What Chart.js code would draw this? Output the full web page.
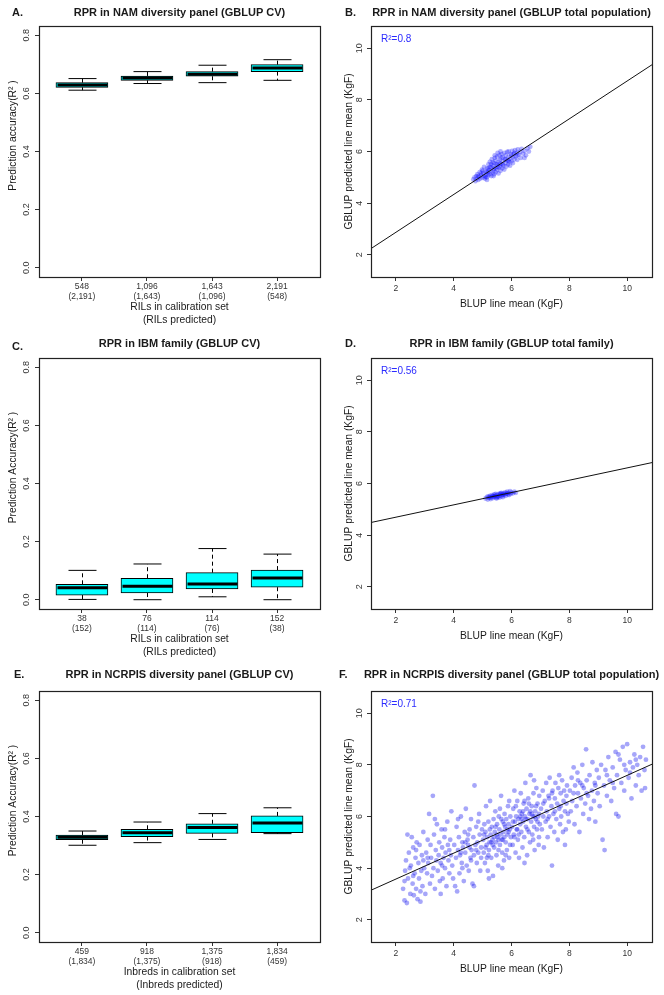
<!DOCTYPE html>
<html>
<head>
<meta charset="utf-8">
<script src="https://cdn.jsdelivr.net/npm/chart.js@4.4.1/dist/chart.umd.min.js"></script>
<style>
  html, body { margin: 0; padding: 0; background: #fff; }
  #fig { position: relative; width: 664px; height: 995px; }
  #fig canvas { position: absolute; }
</style>
</head>
<body>
<div id="fig">
  <canvas id="panelA" width="332" height="330" style="left:0;top:0"></canvas>
  <canvas id="panelB" width="332" height="330" style="left:332px;top:0"></canvas>
  <canvas id="panelC" width="332" height="330" style="left:0;top:330px"></canvas>
  <canvas id="panelD" width="332" height="330" style="left:332px;top:330px"></canvas>
  <canvas id="panelE" width="332" height="335" style="left:0;top:660px"></canvas>
  <canvas id="panelF" width="332" height="335" style="left:332px;top:660px"></canvas>
</div>
<script>
// ---- box plots: prediction accuracy (R^2) per calibration size ----
const namCalib = ['548', '1,096', '1,643', '2,191'];
const namPredicted = ['(2,191)', '(1,643)', '(1,096)', '(548)'];
const namMin = [0.611, 0.634, 0.637, 0.645];
const namQ1 = [0.621, 0.645, 0.659, 0.675];
const namMedian = [0.629, 0.653, 0.666, 0.687];
const namQ3 = [0.637, 0.660, 0.675, 0.699];
const namMax = [0.651, 0.675, 0.697, 0.716];

const ibmCalib = ['38', '76', '114', '152'];
const ibmPredicted = ['(152)', '(114)', '(76)', '(38)'];
const ibmMin = [0.001, 0.0, 0.010, 0.0];
const ibmQ1 = [0.016, 0.023, 0.037, 0.043];
const ibmMedian = [0.041, 0.046, 0.054, 0.075];
const ibmQ3 = [0.053, 0.074, 0.093, 0.102];
const ibmMax = [0.101, 0.123, 0.176, 0.157];

const ncrpisCalib = ['459', '918', '1,375', '1,834'];
const ncrpisPredicted = ['(1,834)', '(1,375)', '(918)', '(459)'];
const ncrpisMin = [0.301, 0.310, 0.321, 0.341];
const ncrpisQ1 = [0.320, 0.331, 0.342, 0.344];
const ncrpisMedian = [0.329, 0.344, 0.362, 0.378];
const ncrpisQ3 = [0.336, 0.356, 0.375, 0.402];
const ncrpisMax = [0.350, 0.381, 0.410, 0.430];

const accuracyTicks = [0, 0.2, 0.4, 0.6, 0.8];
const kgfTicks = [2, 4, 6, 8, 10];

// ---- scatter plots: [BLUP line mean, GBLUP predicted line mean] ----
const namPoints = [
  [4.68,4.92],[4.72,5.0],[4.75,4.85],[4.78,5.05],[4.8,4.95],[4.82,5.12],[4.85,4.9],[4.88,5.02],[4.9,5.2],[4.92,4.95],
  [4.95,5.08],[4.98,5.3],[5.0,4.98],[5.02,5.15],[5.05,5.4],[5.05,5.05],[5.08,4.95],[5.1,5.22],[5.12,5.1],[5.15,5.35],
  [5.15,5.0],[5.18,5.18],[5.2,5.5],[5.2,5.08],[5.22,5.28],[5.25,5.12],[5.25,5.6],[5.28,5.22],[5.3,5.38],[5.3,5.05],
  [5.32,5.7],[5.35,5.2],[5.35,5.45],[5.38,5.3],[5.4,5.12],[5.4,5.55],[5.42,5.75],[5.45,5.35],[5.45,5.2],[5.48,5.5],
  [5.5,5.8],[5.5,5.28],[5.52,5.42],[5.55,5.6],[5.55,5.15],[5.58,5.85],[5.6,5.4],[5.6,5.68],[5.62,5.25],[5.65,5.52],
  [5.65,5.9],[5.68,5.35],[5.7,5.62],[5.7,5.78],[5.72,5.45],[5.75,5.95],[5.75,5.3],[5.78,5.7],[5.8,5.55],[5.8,5.85],
  [5.82,5.42],[5.85,5.98],[5.85,5.65],[5.88,5.5],[5.9,5.8],[5.9,6.0],[5.92,5.6],[5.95,5.72],[5.95,5.45],[5.98,5.9],
  [6.0,5.62],[6.02,6.02],[6.05,5.78],[6.05,5.55],[6.08,5.9],[6.1,5.7],[6.12,6.05],[6.15,5.82],[6.18,5.95],[6.2,5.68],
  [6.22,6.08],[6.25,5.88],[6.3,5.98],[6.32,5.75],[6.35,6.1],[6.4,5.92],[6.45,6.02],[6.5,5.85],[6.55,6.12],[6.6,6.0],
  [6.65,6.18],[5.0,5.25],[5.1,5.02],[5.2,5.35],[5.3,5.5],[5.4,5.35],[5.5,5.5],[5.6,5.52],[5.7,5.5],[5.8,5.7],
  [5.9,5.65],[6.0,5.85],[5.45,5.65],[5.55,5.38],[5.65,5.75],[5.35,5.58],[5.25,5.4],[5.15,5.22],[4.95,5.15],[4.85,5.05],
  [6.1,5.95],[6.2,5.85],[5.62,6.0],[5.52,5.95],[5.42,5.85],[6.45,5.75],[5.15,4.9],[5.38,5.05]
];
const ibmPoints = [
  [5.1,5.42],[5.15,5.48],[5.18,5.38],[5.2,5.5],[5.22,5.44],[5.25,5.52],[5.28,5.4],[5.3,5.47],[5.32,5.55],[5.35,5.43],
  [5.38,5.5],[5.4,5.58],[5.42,5.46],[5.45,5.53],[5.48,5.42],[5.5,5.56],[5.52,5.49],[5.55,5.6],[5.58,5.45],[5.6,5.54],
  [5.62,5.62],[5.65,5.5],[5.68,5.58],[5.7,5.47],[5.72,5.63],[5.75,5.55],[5.78,5.66],[5.8,5.52],[5.82,5.6],[5.85,5.68],
  [5.88,5.57],[5.9,5.64],[5.92,5.55],[5.95,5.7],[5.98,5.6],[6.0,5.66],[6.05,5.62],[6.1,5.68],[6.15,5.64],[5.35,5.52],
  [5.45,5.6],[5.55,5.5],[5.65,5.64],[5.75,5.6],[5.85,5.62],[5.25,5.46],[5.5,5.45],[5.7,5.55],[5.6,5.6],[5.4,5.5]
];
const ncrpisPoints = [
  [2.25,3.2],[2.3,2.75],[2.32,3.9],[2.35,4.3],[2.38,2.65],[2.4,5.3],[2.42,3.6],[2.45,4.6],[2.5,3.0],[2.52,4.1],
  [2.55,5.2],[2.58,3.4],[2.6,4.8],[2.62,2.95],[2.65,3.8],[2.68,4.4],[2.7,3.2],[2.72,5.0],[2.75,2.8],[2.78,4.2],
  [2.8,3.6],[2.82,4.9],[2.85,2.7],[2.88,3.9],[2.9,4.5],[2.92,3.3],[2.95,5.4],[2.98,4.0],[2.3,3.5],[2.48,4.0],
  [2.6,3.7],[2.7,4.7],[2.85,3.1],[2.95,4.3],
  [3.02,3.0],[3.05,4.6],[3.08,3.8],[3.1,5.1],[3.12,4.2],[3.15,6.1],[3.18,3.4],[3.2,4.9],[3.22,4.4],[3.25,3.7],
  [3.28,6.8],[3.3,4.0],[3.32,5.3],[3.35,3.2],[3.38,4.7],[3.4,4.3],[3.42,5.7],[3.45,3.9],[3.48,4.5],[3.5,5.0],
  [3.52,3.5],[3.55,4.2],[3.58,5.5],[3.6,4.8],[3.62,3.6],[3.65,4.4],[3.68,5.2],[3.7,4.0],[3.72,4.6],[3.75,3.3],
  [3.78,5.8],[3.8,4.9],[3.82,4.3],[3.85,3.8],[3.88,5.1],[3.9,4.5],[3.92,6.2],[3.95,4.1],[3.98,3.6],[3.1,4.4],
  [3.35,5.9],[3.55,3.0],[3.7,5.5],[3.85,4.7],[3.6,4.1],
  [4.02,4.9],[4.05,3.3],[4.08,4.4],[4.1,5.6],[4.12,3.1],[4.15,4.7],[4.18,5.2],[4.2,3.8],[4.22,4.5],[4.25,6.0],
  [4.28,4.2],[4.3,5.0],[4.32,4.8],[4.35,3.5],[4.38,5.4],[4.4,4.6],[4.42,6.3],[4.45,4.1],[4.48,5.1],[4.5,4.9],
  [4.52,3.9],[4.55,5.5],[4.58,4.4],[4.6,5.9],[4.62,4.7],[4.65,3.4],[4.68,5.2],[4.7,4.5],[4.72,7.2],[4.75,4.9],
  [4.78,5.6],[4.8,4.2],[4.82,5.0],[4.85,4.6],[4.88,6.1],[4.9,5.3],[4.92,3.9],[4.95,4.8],[4.98,5.5],[4.15,5.9],
  [4.3,4.0],[4.5,5.3],[4.6,4.3],[4.7,3.3],[4.85,5.8],[4.95,4.4],[4.4,5.0],[4.78,4.7],[4.55,4.8],[4.25,4.6],
  [5.02,5.1],[5.04,4.6],[5.06,5.7],[5.08,4.2],[5.1,5.4],[5.12,6.4],[5.14,4.9],[5.16,5.2],[5.18,3.9],[5.2,5.8],
  [5.22,4.7],[5.24,5.0],[5.26,6.6],[5.28,5.3],[5.3,4.4],[5.32,5.6],[5.34,5.1],[5.36,3.7],[5.38,5.9],[5.4,4.8],
  [5.42,5.4],[5.44,6.2],[5.46,5.0],[5.48,4.5],[5.5,5.7],[5.52,5.2],[5.54,4.1],[5.56,6.0],[5.58,5.5],[5.6,4.9],
  [5.62,5.3],[5.64,6.8],[5.66,5.1],[5.68,4.6],[5.7,5.8],[5.72,5.4],[5.74,4.3],[5.76,6.1],[5.78,5.6],[5.8,5.0],
  [5.82,5.9],[5.84,4.7],[5.86,5.3],[5.88,6.4],[5.9,5.7],[5.92,4.4],[5.94,5.5],[5.96,6.0],[5.98,5.2],[5.05,5.3],
  [5.15,4.4],[5.25,5.5],[5.35,4.9],[5.45,5.6],[5.55,4.7],[5.65,5.9],[5.75,5.2],[5.85,5.5],[5.95,4.9],[5.3,5.0],
  [5.5,5.3],[5.7,5.1],[5.9,5.4],[5.2,4.5],[5.6,6.3],[5.8,4.5],[5.4,5.2],[5.1,4.8],[5.55,5.1],[5.75,5.7],
  [5.22,3.6],[5.68,4.0],[5.92,6.6],
  [6.02,5.6],[6.04,4.9],[6.06,6.3],[6.08,5.3],[6.1,7.0],[6.12,5.8],[6.14,4.6],[6.16,6.0],[6.18,5.5],[6.2,6.6],
  [6.22,5.1],[6.24,5.9],[6.26,4.4],[6.28,6.2],[6.3,5.7],[6.32,6.9],[6.34,5.4],[6.36,6.1],[6.38,4.8],[6.4,5.8],
  [6.42,6.5],[6.44,5.2],[6.46,6.0],[6.48,7.3],[6.5,5.6],[6.52,6.3],[6.54,4.5],[6.56,5.9],[6.58,6.7],[6.6,5.4],
  [6.62,6.1],[6.64,5.0],[6.66,7.6],[6.68,5.8],[6.7,6.4],[6.72,5.3],[6.74,6.0],[6.76,6.9],[6.78,5.6],[6.8,4.7],
  [6.82,6.2],[6.84,5.9],[6.86,7.1],[6.88,5.5],[6.9,6.5],[6.92,6.0],[6.94,4.9],[6.96,6.8],[6.98,5.7],[6.05,5.8],
  [6.15,6.4],[6.25,5.3],[6.35,5.9],[6.45,6.6],[6.55,5.5],[6.65,6.2],[6.75,5.1],[6.85,6.4],[6.95,6.1],[6.3,6.0],
  [6.5,5.9],[6.7,6.1],[6.9,5.8],[6.2,5.5],[6.6,6.5],[6.8,6.0],[6.4,6.2],[6.1,5.2],[6.95,5.2],[6.45,4.2],[6.78,7.4],
  [7.02,6.3],[7.05,5.5],[7.08,7.0],[7.1,6.0],[7.12,4.8],[7.15,6.6],[7.18,5.8],[7.2,7.3],[7.22,6.2],[7.25,5.2],
  [7.28,6.8],[7.3,6.0],[7.32,7.5],[7.35,5.6],[7.38,6.4],[7.4,4.1],[7.42,7.0],[7.45,6.1],[7.48,5.4],[7.5,6.7],
  [7.52,7.3],[7.55,5.9],[7.58,6.5],[7.6,5.1],[7.62,7.1],[7.65,6.3],[7.68,5.7],[7.7,6.9],[7.72,6.0],[7.75,7.4],
  [7.78,5.4],[7.8,6.6],[7.82,7.0],[7.85,6.2],[7.88,5.5],[7.9,6.8],[7.92,7.2],[7.95,6.1],[7.98,5.8],[7.1,6.5],
  [7.3,6.7],[7.5,6.2],[7.7,6.4],[7.9,6.5],[7.25,5.9],[7.65,7.6],[7.4,6.9],[7.85,4.9],
  [8.02,7.0],[8.05,6.2],[8.08,7.5],[8.1,6.6],[8.15,7.9],[8.18,5.7],[8.2,7.2],[8.25,6.4],[8.28,7.7],[8.3,6.9],
  [8.35,5.4],[8.38,7.3],[8.4,6.7],[8.45,8.0],[8.48,6.1],[8.5,7.1],[8.55,6.5],[8.58,8.6],[8.6,7.4],[8.65,6.8],
  [8.68,5.9],[8.7,7.6],[8.75,6.3],[8.78,7.0],[8.8,8.1],[8.85,6.6],[8.88,7.3],[8.9,5.8],[8.95,7.8],[8.98,6.9],
  [8.3,7.4],[8.6,6.9],[8.9,7.2],[8.15,6.9],[8.45,7.2],
  [9.02,7.5],[9.05,6.4],[9.1,8.0],[9.15,5.1],[9.2,7.2],[9.22,4.7],[9.25,7.8],[9.3,6.8],[9.35,8.3],[9.4,7.4],
  [9.45,6.6],[9.5,7.9],[9.55,7.1],[9.6,8.5],[9.62,6.1],[9.65,7.6],[9.7,6.0],[9.75,8.2],[9.8,7.3],[9.85,8.7],
  [9.9,7.0],[9.95,7.8],[10.0,8.8],[10.05,7.5],[10.1,8.1],[10.15,6.7],[10.2,7.9],[10.25,8.4],[10.3,7.2],[10.35,8.0],
  [10.4,7.6],[10.45,8.3],[10.5,7.0],[10.55,8.7],[10.6,7.8],[10.62,7.1],[10.65,8.2],[9.3,7.6],[9.5,7.3],[9.7,8.4],
  [9.9,8.0],[10.1,7.7],[10.3,8.2]
];

// fitted lines, read at the left and right plot edges
const fitX = [1.14, 10.86];
const namFitY = [2.24, 9.36];
const ibmFitY = [4.49, 6.81];
const ncrpisFitY = [3.145, 8.025];

const FONT = "'Liberation Sans', Arial, Helvetica, sans-serif";
const tickGrid = { display: true, drawOnChartArea: false, drawTicks: true, tickLength: 4, color: '#333', lineWidth: 1, offset: false };

// R-like decorations: frame, whiskers/medians, rotated y labels, titles
const rStyle = {
  id: 'rStyle',
  afterDatasetsDraw(chart, args, o) {
    if (!o.box) return;
    const ctx = chart.ctx, xs = chart.scales.x, ys = chart.scales.y, b = o.box;
    ctx.save();
    ctx.strokeStyle = '#000';
    b.pos.forEach((v, i) => {
      const px = Math.round(xs.getPixelForValue(v)) + 0.5;
      const yMin = ys.getPixelForValue(b.min[i]), yMax = ys.getPixelForValue(b.max[i]);
      ctx.lineWidth = 1;
      ctx.setLineDash([4, 3]);
      ctx.beginPath();
      ctx.moveTo(px, ys.getPixelForValue(b.q3[i])); ctx.lineTo(px, yMax);
      ctx.moveTo(px, ys.getPixelForValue(b.q1[i])); ctx.lineTo(px, yMin);
      ctx.stroke();
      ctx.setLineDash([]);
      ctx.beginPath();
      ctx.moveTo(px - 14, yMax); ctx.lineTo(px + 14, yMax);
      ctx.moveTo(px - 14, yMin); ctx.lineTo(px + 14, yMin);
      ctx.stroke();
      ctx.lineWidth = 3;
      const ym = ys.getPixelForValue(b.median[i]);
      ctx.beginPath();
      ctx.moveTo(px - 25, ym); ctx.lineTo(px + 25, ym);
      ctx.stroke();
    });
    ctx.restore();
  },
  afterDraw(chart, args, o) {
    const ctx = chart.ctx, a = chart.chartArea, ys = chart.scales.y;
    ctx.save();
    // frame
    ctx.strokeStyle = '#222';
    ctx.lineWidth = 1.2;
    ctx.strokeRect(Math.round(a.left) + 0.5, Math.round(a.top) + 0.5, Math.round(a.right - a.left), Math.round(a.bottom - a.top));
    // y tick labels, parallel to the axis
    ctx.fillStyle = '#333';
    ctx.font = '9px ' + FONT;
    ctx.textAlign = 'center';
    ctx.textBaseline = 'middle';
    ys.ticks.forEach((t, i) => {
      ctx.save();
      ctx.translate(o.yLabelX, ys.getPixelForTick(i));
      ctx.rotate(-Math.PI / 2);
      ctx.fillText(o.yFormat(t.value), 0, 0);
      ctx.restore();
    });
    // panel letter and title
    ctx.fillStyle = '#1a1a1a';
    ctx.font = 'bold 11px ' + FONT;
    ctx.textAlign = 'left';
    ctx.fillText(o.letter, o.letterX, o.letterY);
    ctx.textAlign = 'center';
    ctx.fillText(o.title, (a.left + a.right) / 2, o.titleY);
    // axis titles
    ctx.font = '10.3px ' + FONT;
    o.xTitle.forEach((line, i) => {
      ctx.fillText(line, (a.left + a.right) / 2, a.bottom + o.xTitleGap + i * 13);
    });
    ctx.save();
    ctx.translate(o.yTitleX, (a.top + a.bottom) / 2 + o.yTitleShift);
    ctx.rotate(-Math.PI / 2);
    ctx.fillText(o.yTitle, 0, 0);
    ctx.restore();
    if (o.r2) {
      ctx.fillStyle = '#2b2bff';
      ctx.font = '10px ' + FONT;
      ctx.textAlign = 'left';
      ctx.fillText(o.r2, a.left + 10, a.top + 13);
    }
    ctx.restore();
  }
};
Chart.register(rStyle);

function boxChart(id, p) {
  const pos = p.calib.map((c, i) => i + 1);
  const canvas = document.getElementById(id);
  return new Chart(canvas, {
    type: 'bar',
    data: {
      datasets: [{
        data: pos.map((x, i) => ({ x: x, y: [p.q1[i], p.q3[i]] })),
        backgroundColor: '#00ffff',
        borderColor: '#000',
        borderWidth: 1,
        borderSkipped: false,
        barThickness: 52
      }]
    },
    options: {
      responsive: false,
      animation: false,
      layout: { padding: { left: 0, right: 12, top: p.top, bottom: 0 } },
      scales: {
        x: {
          type: 'linear', min: 0.34, max: 4.66, offset: false,
          afterBuildTicks: s => { s.ticks = pos.map(v => ({ value: v })); },
          afterFit: s => { s.height = canvas.height - p.bottom; },
          grid: tickGrid,
          border: { display: false },
          ticks: {
            autoSkip: false, maxRotation: 0, padding: 1, color: '#333',
            font: { family: FONT, size: 8.5, lineHeight: 1.15 },
            callback: (v, i) => [p.calib[i], p.predicted[i]]
          }
        },
        y: {
          min: -0.032, max: 0.832,
          afterBuildTicks: s => { s.ticks = accuracyTicks.map(v => ({ value: v })); },
          afterFit: s => { s.width = 39; },
          grid: tickGrid,
          border: { display: false },
          ticks: { display: false }
        }
      },
      plugins: {
        legend: { display: false },
        tooltip: { enabled: false },
        rStyle: {
          box: { pos: pos, min: p.min, q1: p.q1, median: p.median, q3: p.q3, max: p.max },
          letter: p.letter, letterX: p.letterX, letterY: p.letterY,
          title: p.title, titleY: p.titleY,
          xTitle: p.xTitle, xTitleGap: 30,
          yTitle: p.yTitle, yTitleX: 13.5, yTitleShift: -16,
          yLabelX: 27, yFormat: v => v.toFixed(1)
        }
      }
    }
  });
}

function scatterChart(id, p) {
  const canvas = document.getElementById(id);
  return new Chart(canvas, {
    type: 'scatter',
    data: {
      datasets: [{
        type: 'line',
        data: [{ x: fitX[0], y: p.fitY[0] }, { x: fitX[1], y: p.fitY[1] }],
        borderColor: '#111',
        borderWidth: 1,
        pointRadius: 0,
        fill: false
      }, {
        data: p.points.map(d => ({ x: d[0], y: d[1] })),
        backgroundColor: p.pointColor,
        borderWidth: 0,
        pointRadius: 2.4
      }]
    },
    options: {
      responsive: false,
      animation: false,
      layout: { padding: { left: 0, right: 12, top: p.top, bottom: 0 } },
      scales: {
        x: {
          type: 'linear', min: 1.14, max: 10.86,
          afterBuildTicks: s => { s.ticks = kgfTicks.map(v => ({ value: v })); },
          afterFit: s => { s.height = canvas.height - p.bottom; },
          grid: tickGrid,
          border: { display: false },
          ticks: {
            autoSkip: false, maxRotation: 0, padding: 3, color: '#333',
            font: { family: FONT, size: 8.5 },
            callback: v => String(v)
          }
        },
        y: {
          type: 'linear', min: 1.14, max: 10.86,
          afterBuildTicks: s => { s.ticks = kgfTicks.map(v => ({ value: v })); },
          afterFit: s => { s.width = 39; },
          grid: tickGrid,
          border: { display: false },
          ticks: { display: false }
        }
      },
      plugins: {
        legend: { display: false },
        tooltip: { enabled: false },
        rStyle: {
          letter: p.letter, letterX: p.letterX, letterY: p.letterY,
          title: p.title, titleY: p.titleY,
          xTitle: ['BLUP line mean (KgF)'], xTitleGap: 27,
          yTitle: 'GBLUP predicted line mean (KgF)', yTitleX: 17, yTitleShift: 0,
          yLabelX: 28, yFormat: v => String(v),
          r2: p.r2
        }
      }
    }
  });
}

boxChart('panelA', {
  calib: namCalib, predicted: namPredicted,
  min: namMin, q1: namQ1, median: namMedian, q3: namQ3, max: namMax,
  top: 26, bottom: 277, letter: 'A.', letterX: 12, letterY: 12.5, titleY: 12.5,
  title: 'RPR in NAM diversity panel (GBLUP CV)',
  xTitle: ['RILs in calibration set', '(RILs predicted)'],
  yTitle: 'Prediction accuracy(R² )'
});
scatterChart('panelB', {
  points: namPoints, fitY: namFitY, r2: 'R²=0.8', pointColor: 'rgba(0, 0, 255, 0.3)',
  top: 26, bottom: 277, letter: 'B.', letterX: 13, letterY: 13, titleY: 13,
  title: 'RPR in NAM diversity panel (GBLUP total population)'
});
boxChart('panelC', {
  calib: ibmCalib, predicted: ibmPredicted,
  min: ibmMin, q1: ibmQ1, median: ibmMedian, q3: ibmQ3, max: ibmMax,
  top: 28, bottom: 279, letter: 'C.', letterX: 12, letterY: 16.5, titleY: 13.5,
  title: 'RPR in IBM family (GBLUP CV)',
  xTitle: ['RILs in calibration set', '(RILs predicted)'],
  yTitle: 'Prediction Accuracy(R² )'
});
scatterChart('panelD', {
  points: ibmPoints, fitY: ibmFitY, r2: 'R²=0.56', pointColor: 'rgba(0, 0, 255, 0.3)',
  top: 28, bottom: 279, letter: 'D.', letterX: 13, letterY: 14, titleY: 14,
  title: 'RPR in IBM family (GBLUP total family)'
});
boxChart('panelE', {
  calib: ncrpisCalib, predicted: ncrpisPredicted,
  min: ncrpisMin, q1: ncrpisQ1, median: ncrpisMedian, q3: ncrpisQ3, max: ncrpisMax,
  top: 31, bottom: 282, letter: 'E.', letterX: 14, letterY: 15, titleY: 15,
  title: 'RPR in NCRPIS diversity panel (GBLUP CV)',
  xTitle: ['Inbreds in calibration set', '(Inbreds predicted)'],
  yTitle: 'Prediction Accuracy(R² )'
});
scatterChart('panelF', {
  points: ncrpisPoints, fitY: ncrpisFitY, r2: 'R²=0.71', pointColor: 'rgba(20, 20, 240, 0.38)',
  top: 31, bottom: 282, letter: 'F.', letterX: 7, letterY: 15, titleY: 15,
  title: 'RPR in NCRPIS diversity panel (GBLUP total population)'
});
</script>
</body>
</html>
